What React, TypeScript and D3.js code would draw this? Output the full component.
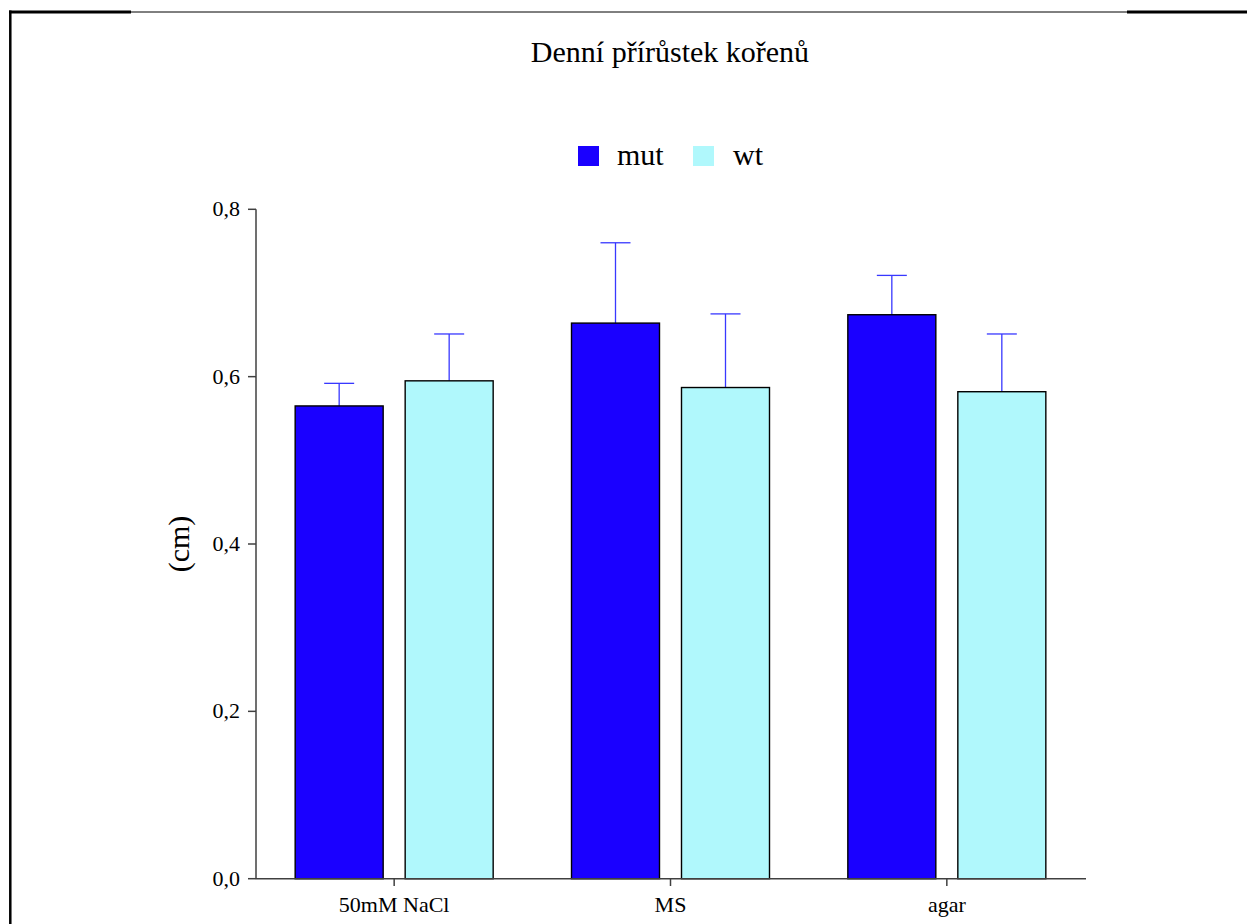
import React from "react";
import * as d3 from "d3";

const categories = ["50mM NaCl", "MS", "agar"];
const seriesNames = ["mut", "wt"];
const mutValues = [0.565, 0.664, 0.674];
const mutErrors = [0.027, 0.096, 0.047];
const wtValues = [0.595, 0.587, 0.582];
const wtErrors = [0.056, 0.088, 0.069];
const yTicks = [0, 0.2, 0.4, 0.6, 0.8];

const colors = ["#1a00ff", "#b0f8fc"];
const errColor = "#3838ff";
const serif = "Liberation Serif";

export default function App() {
  const W = 1247, H = 924;
  const x0 = d3.scaleBand<string>().domain(categories).range([256, 1085]);
  const y = d3.scaleLinear().domain([0, 0.8]).range([878.7, 209.3]);
  const barW = 88;
  const offsets = [-55, 55];
  const series = [
    { name: seriesNames[0], values: mutValues, errors: mutErrors, color: colors[0] },
    { name: seriesNames[1], values: wtValues, errors: wtErrors, color: colors[1] },
  ];
  const fmt = (v: number) => v.toFixed(1).replace(".", ",");
  return (
    <svg width={W} height={H} style={{ position: "absolute", left: 0, top: 0, background: "#fff" }}>
      {/* frame */}
      <line x1={10} y1={12} x2={1247} y2={12} stroke="#000" strokeWidth={1} />
      <line x1={9} y1={12} x2={131} y2={12} stroke="#000" strokeWidth={3} />
      <line x1={1127} y1={12} x2={1247} y2={12} stroke="#000" strokeWidth={3} />
      <line x1={10.3} y1={10.5} x2={10.3} y2={924} stroke="#000" strokeWidth={2.5} />

      <text x={670} y={62} textAnchor="middle" fontFamily={serif} fontSize={30} fill="#000">
        Denní přírůstek kořenů
      </text>

      {/* legend */}
      {series.map((s, i) => (
        <g key={s.name}>
          <rect x={578 + i * 115} y={146} width={21} height={20} fill={s.color} />
          <text x={617 + i * 116} y={165} fontFamily={serif} fontSize={30} fill="#000">
            {s.name}
          </text>
        </g>
      ))}

      {/* bars */}
      {categories.map((c, ci) =>
        series.map((s, si) => {
          const cx = (x0(c) as number) + x0.bandwidth() / 2 + offsets[si];
          const v = s.values[ci];
          const e = s.errors[ci];
          return (
            <g key={c + s.name}>
              <line x1={cx} x2={cx} y1={y(v)} y2={y(v + e)} stroke={errColor} strokeWidth={1.3} />
              <line x1={cx - 15} x2={cx + 15} y1={y(v + e)} y2={y(v + e)} stroke={errColor} strokeWidth={1.3} />
              <rect x={cx - barW / 2} y={y(v)} width={barW} height={y(0) - y(v)} fill={s.color} stroke="#000" strokeWidth={1.4} />
            </g>
          );
        })
      )}

      {/* y axis */}
      <line x1={256} x2={256} y1={209.3} y2={878.7} stroke="#404040" strokeWidth={1.5} />
      {yTicks.map((t) => (
        <g key={t}>
          <line x1={248} x2={256} y1={y(t)} y2={y(t)} stroke="#404040" strokeWidth={1.5} />
          <text x={240} y={y(t) + 7} textAnchor="end" fontFamily={serif} fontSize={22} fill="#000">
            {fmt(t)}
          </text>
        </g>
      ))}
      <text transform={`translate(189,544) rotate(-90)`} textAnchor="middle" fontFamily={serif} fontSize={30} fill="#000">
        (cm)
      </text>

      {/* x axis */}
      <line x1={256} x2={1086} y1={878.7} y2={878.7} stroke="#404040" strokeWidth={1.5} />
      {categories.map((c) => {
        const cx = (x0(c) as number) + x0.bandwidth() / 2;
        return (
          <g key={c}>
            <line x1={cx} x2={cx} y1={878.7} y2={886} stroke="#404040" strokeWidth={1.5} />
            <text x={cx} y={912} textAnchor="middle" fontFamily={serif} fontSize={22} fill="#000">
              {c}
            </text>
          </g>
        );
      })}
    </svg>
  );
}
